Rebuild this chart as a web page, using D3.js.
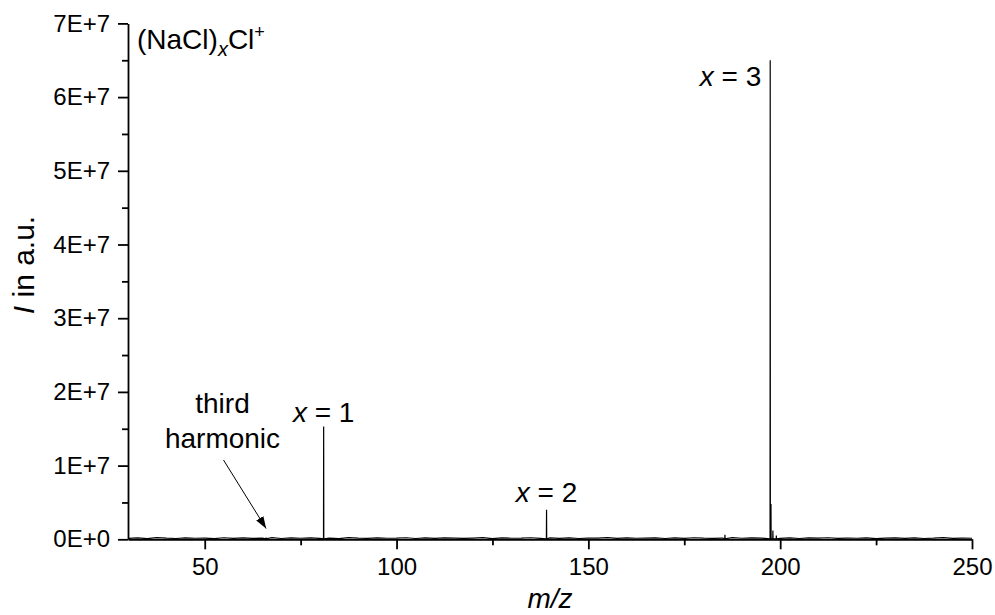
<!DOCTYPE html>
<html><head><meta charset="utf-8">
<script src="https://cdn.jsdelivr.net/npm/d3@7"></script>
<style>
body{margin:0;background:#fff;}
svg{display:block;font-family:Arial,"Liberation Sans",sans-serif;}
</style></head>
<body><svg id="c" width="995" height="615"></svg>
<script>
// ---- data ----
const xDomain = [30, 250];
const yDomain = [0, 7e7];
const xMajorTicks = [50, 100, 150, 200, 250];
const xMinorTicks = [75, 125, 175, 225];
const yMajorTicks = [0, 1e7, 2e7, 3e7, 4e7, 5e7, 6e7, 7e7];
const yMinorTicks = [5e6, 1.5e7, 2.5e7, 3.5e7, 4.5e7, 5.5e7, 6.5e7];
const yTickLabels = ["0E+0","1E+7","2E+7","3E+7","4E+7","5E+7","6E+7","7E+7"];
// peaks: m/z and intensity
const peakMz = [66.0, 81.0, 139.1, 185.6, 197.4, 197.6, 198.1, 199.0];
const peakI  = [2.5e5, 1.53e7, 4.0e6, 6.0e5, 6.5e7, 4.8e6, 1.2e6, 5.0e5];
// baseline noise samples
const noiseMz = [30,32.5,35,37.5,40,42.5,45,47.5,50,52.5,55,57.5,60,62.5,65,67.5,70,72.5,75,77.5,80,82.5,85,87.5,90,92.5,95,97.5,100,102.5,105,107.5,110,112.5,115,117.5,120,122.5,125,127.5,130,132.5,135,137.5,140,142.5,145,147.5,150,152.5,155,157.5,160,162.5,165,167.5,170,172.5,175,177.5,180,182.5,185,187.5,190,192.5,195,200,202.5,205,207.5,210,212.5,215,217.5,220,222.5,225,227.5,230,232.5,235,237.5,240,242.5,245,247.5,250];
const noiseI  = [1.2e5,1.8e5,1.0e5,2.2e5,1.5e5,1.1e5,2.0e5,1.4e5,1.7e5,1.0e5,2.1e5,1.3e5,1.9e5,1.2e5,1.6e5,2.3e5,1.1e5,1.8e5,1.4e5,2.0e5,1.3e5,1.7e5,1.0e5,2.2e5,1.5e5,1.2e5,1.9e5,1.4e5,1.6e5,2.1e5,1.1e5,1.8e5,1.3e5,2.0e5,1.5e5,1.2e5,1.7e5,2.2e5,1.0e5,1.9e5,1.4e5,1.6e5,2.1e5,1.2e5,1.8e5,1.3e5,2.0e5,1.1e5,1.7e5,1.5e5,2.2e5,1.2e5,1.9e5,1.4e5,1.6e5,2.0e5,1.1e5,1.8e5,1.3e5,2.1e5,1.5e5,1.2e5,1.7e5,2.2e5,1.4e5,1.9e5,1.6e5,1.3e5,2.0e5,1.1e5,1.8e5,1.5e5,2.1e5,1.2e5,1.7e5,1.4e5,1.9e5,1.0e5,1.6e5,2.0e5,1.3e5,1.8e5,1.1e5,1.5e5,2.2e5,1.2e5,1.7e5,1.4e5];

// ---- layout ----
const svg = d3.select("#c");
const x = d3.scaleLinear().domain(xDomain).range([128, 972]);
const y = d3.scaleLinear().domain(yDomain).range([539.3, 23.4]);

// build spectrum points
let pts = noiseMz.map((m,i)=>({mz:m, I:noiseI[i]}));
peakMz.forEach((m,i)=>{
  pts.push({mz:m-0.04, I:noiseI[0]*0.5});
  pts.push({mz:m, I:peakI[i]});
  pts.push({mz:m+0.04, I:noiseI[0]*0.5});
});
pts.sort((a,b)=>a.mz-b.mz);

const line = d3.line().x(d=>x(d.mz)).y(d=>y(d.I));
svg.append("path").datum(pts).attr("d", line)
  .attr("fill","none").attr("stroke","#000").attr("stroke-width",1.2);

// axes
const fontTick = 24;
const gx = svg.append("g").attr("transform",`translate(0,${y(0)})`);
gx.call(d3.axisBottom(x).tickValues(xMajorTicks).tickSize(10).tickSizeOuter(0).tickPadding(9).tickFormat(d3.format("d")));
const gxm = svg.append("g").attr("transform",`translate(0,${y(0)})`);
gxm.call(d3.axisBottom(x).tickValues(xMinorTicks).tickSize(6).tickSizeOuter(0).tickFormat(""));
gxm.select(".domain").remove();

const gy = svg.append("g").attr("transform",`translate(${x(30)},0)`);
gy.call(d3.axisLeft(y).tickValues(yMajorTicks).tickSize(10).tickSizeOuter(0).tickPadding(8)
  .tickFormat((d,i)=>yTickLabels[i]));
const gym = svg.append("g").attr("transform",`translate(${x(30)},0)`);
gym.call(d3.axisLeft(y).tickValues(yMinorTicks).tickSize(6).tickSizeOuter(0).tickFormat(""));
gym.select(".domain").remove();

svg.selectAll(".domain, .tick line").attr("stroke","#000").attr("stroke-width",1.8);
svg.selectAll(".tick text").attr("font-size",fontTick).attr("fill","#000")
  .attr("font-family","Arial, 'Liberation Sans', sans-serif");

// axis titles
svg.append("text").attr("x",550).attr("y",608).attr("text-anchor","middle")
  .attr("font-size",28).attr("font-style","italic").text("m/z");
const yt = svg.append("text").attr("transform","translate(34,265) rotate(-90)")
  .attr("text-anchor","middle").attr("font-size",30);
yt.append("tspan").attr("font-style","italic").text("I");
yt.append("tspan").text(" in a.u.");

// title label
const tl = svg.append("text").attr("x",137).attr("y",49).attr("font-size",28);
tl.append("tspan").text("(NaCl)");
tl.append("tspan").attr("font-style","italic").attr("font-size",20).attr("dy",7).text("x");
tl.append("tspan").attr("dy",-7).text("Cl");
tl.append("tspan").attr("font-size",18).attr("dy",-11).text("+");

// peak labels
function xLabel(cx, by, n, anchor){
  const t = svg.append("text").attr("x",cx).attr("y",by).attr("text-anchor",anchor).attr("font-size",28);
  t.append("tspan").attr("font-style","italic").text("x");
  t.append("tspan").text(" = " + n);
}
xLabel(x(peakMz[1]), 421.5, 1, "middle");
xLabel(x(peakMz[2]), 501.5, 2, "middle");
xLabel(x(peakMz[4]) - 9, 86, 3, "end");

// third harmonic annotation
svg.append("text").attr("x",222.5).attr("y",413).attr("text-anchor","middle").attr("font-size",28).text("third");
svg.append("text").attr("x",222.5).attr("y",448).attr("text-anchor","middle").attr("font-size",28).text("harmonic");
svg.append("defs").append("marker").attr("id","ah").attr("viewBox","0 0 10 10")
  .attr("refX",10).attr("refY",5).attr("markerWidth",12).attr("markerHeight",12)
  .attr("markerUnits","userSpaceOnUse").attr("orient","auto")
  .append("path").attr("d","M0,1.5 L10,5 L0,8.5 Z").attr("fill","#000");
svg.append("line").attr("x1",223.5).attr("y1",460).attr("x2",x(peakMz[0])).attr("y2",528.5)
  .attr("stroke","#000").attr("stroke-width",1).attr("marker-end","url(#ah)");
</script></body></html>
